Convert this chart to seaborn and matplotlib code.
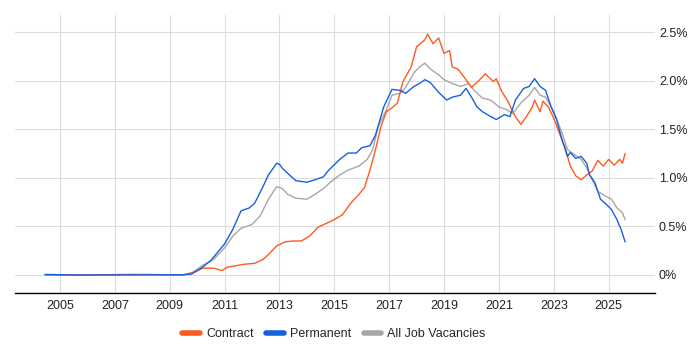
import numpy as np
import pandas as pd
import matplotlib
matplotlib.use("Agg")
import matplotlib.pyplot as plt
import seaborn as sns

# ---- data ----
perm_x = [2004.45, 2005.5, 2007.0, 2008.5, 2009.5, 2009.8, 2010.2, 2010.5, 2011.0, 2011.3, 2011.6, 2011.9,
          2012.1, 2012.4, 2012.6, 2012.9, 2013.0, 2013.1, 2013.4, 2013.6, 2014.0, 2014.3, 2014.6,
          2014.8, 2015.2, 2015.5, 2015.8, 2016.0, 2016.3, 2016.5, 2016.8, 2017.0, 2017.1, 2017.4,
          2017.6, 2017.9, 2018.1, 2018.3, 2018.5, 2018.8, 2019.1, 2019.3, 2019.6, 2019.8, 2020.0,
          2020.2, 2020.4, 2020.7, 2020.9, 2021.2, 2021.4, 2021.6, 2021.9, 2022.1, 2022.3, 2022.5,
          2022.7, 2022.9, 2023.1, 2023.3, 2023.5, 2023.6, 2023.8, 2024.0, 2024.2, 2024.3, 2024.5,
          2024.7, 2024.9, 2025.1, 2025.3, 2025.45, 2025.6]
perm_y = [0.005, 0.0, 0.0, 0.002, 0.002, 0.01, 0.08, 0.15, 0.32, 0.47, 0.66, 0.69,
          0.74, 0.91, 1.03, 1.15, 1.14, 1.10, 1.02, 0.97, 0.955, 0.98, 1.01,
          1.08, 1.19, 1.255, 1.255, 1.31, 1.33, 1.44, 1.73, 1.85, 1.91, 1.90,
          1.87, 1.94, 1.97, 2.01, 1.98, 1.88, 1.80, 1.83, 1.85, 1.92, 1.83,
          1.73, 1.68, 1.63, 1.60, 1.65, 1.63, 1.80, 1.92, 1.94, 2.02, 1.94,
          1.90, 1.73, 1.60, 1.39, 1.22, 1.26, 1.20, 1.22, 1.15, 1.03, 0.95,
          0.78, 0.73, 0.675, 0.57, 0.47, 0.34]

contract_x = [2004.45, 2006.0, 2007.5, 2008.2, 2009.5, 2009.9, 2010.2, 2010.6, 2010.9, 2011.1, 2011.4,
              2011.7, 2012.1, 2012.4, 2012.6, 2012.9, 2013.2, 2013.5, 2013.8, 2014.1, 2014.4,
              2014.7, 2015.0, 2015.3, 2015.6, 2015.9, 2016.1, 2016.3, 2016.5, 2016.7, 2016.9,
              2017.1, 2017.3, 2017.5, 2017.8, 2018.0, 2018.3, 2018.4, 2018.6, 2018.8, 2019.0,
              2019.2, 2019.3, 2019.5, 2019.8, 2020.0, 2020.3, 2020.5, 2020.8, 2020.9, 2021.1,
              2021.3, 2021.6, 2021.8, 2022.0, 2022.2, 2022.3, 2022.5, 2022.6, 2022.8, 2023.0,
              2023.2, 2023.4, 2023.6, 2023.8, 2024.0, 2024.2, 2024.4, 2024.6, 2024.8, 2025.0,
              2025.2, 2025.4, 2025.5, 2025.6]
contract_y = [0.0, 0.0, 0.006, 0.005, 0.0, 0.03, 0.07, 0.07, 0.045, 0.08, 0.095,
              0.11, 0.12, 0.16, 0.21, 0.30, 0.34, 0.35, 0.35, 0.40, 0.49,
              0.53, 0.57, 0.62, 0.74, 0.83, 0.90, 1.08, 1.29, 1.53, 1.68,
              1.72, 1.77, 1.99, 2.14, 2.35, 2.42, 2.48, 2.38, 2.44, 2.28,
              2.31, 2.14, 2.12, 2.01, 1.93, 2.01, 2.07, 1.99, 2.02, 1.89,
              1.80, 1.63, 1.55, 1.63, 1.72, 1.80, 1.68, 1.79, 1.73, 1.61,
              1.46, 1.32, 1.12, 1.02, 0.98, 1.03, 1.07, 1.18, 1.12, 1.19,
              1.13, 1.19, 1.15, 1.25]

all_x = [2004.45, 2006.0, 2008.0, 2009.5, 2009.8, 2010.2, 2010.6, 2011.0, 2011.3, 2011.6, 2012.0,
         2012.3, 2012.6, 2012.9, 2013.1, 2013.3, 2013.6, 2014.0, 2014.3, 2014.6, 2014.9,
         2015.2, 2015.5, 2015.9, 2016.2, 2016.4, 2016.6, 2016.9, 2017.1, 2017.4, 2017.6,
         2017.9, 2018.1, 2018.3, 2018.5, 2018.8, 2019.0, 2019.3, 2019.6, 2019.9, 2020.1,
         2020.4, 2020.7, 2021.0, 2021.3, 2021.5, 2021.8, 2022.1, 2022.3, 2022.5, 2022.7,
         2023.0, 2023.3, 2023.5, 2023.8, 2024.0, 2024.2, 2024.4, 2024.6, 2024.9, 2025.1,
         2025.3, 2025.5, 2025.6]
all_y = [0.004, 0.002, 0.002, 0.003, 0.02, 0.10, 0.16, 0.28, 0.40, 0.48, 0.52,
         0.61, 0.78, 0.91, 0.89, 0.83, 0.79, 0.78, 0.83, 0.89, 0.965,
         1.03, 1.08, 1.12, 1.19, 1.29, 1.53, 1.70, 1.85, 1.87, 1.93,
         2.08, 2.14, 2.18, 2.12, 2.06, 2.01, 1.97, 1.94, 1.97, 1.90,
         1.82, 1.80, 1.73, 1.70, 1.66, 1.77, 1.85, 1.93, 1.85, 1.83,
         1.68, 1.46, 1.29, 1.23, 1.19, 1.10, 0.98, 0.86, 0.81, 0.78,
         0.69, 0.64, 0.57]

series_names = ["Contract", "Permanent", "All Job Vacancies"]
colors = ["#ff5a1f", "#1660e0", "#a6a6a6"]
x_ticks = list(range(2005, 2027, 2))
y_ticks = [0, 0.5, 1.0, 1.5, 2.0, 2.5]
y_tick_labels = ["0%", "0.5%", "1.0%", "1.5%", "2.0%", "2.5%"]

frames = []
for name, xs, ys in [("Contract", contract_x, contract_y),
                     ("Permanent", perm_x, perm_y),
                     ("All Job Vacancies", all_x, all_y)]:
    frames.append(pd.DataFrame({"year": xs, "pct": ys, "series": name}))
df = pd.concat(frames, ignore_index=True)

sns.set_theme(style="white")
plt.rcParams["font.family"] = ["Liberation Sans", "DejaVu Sans"]

fig = plt.figure(figsize=(7, 3.5), dpi=100)
ax = fig.add_axes([0.0214, 0.163, 0.914, 0.794])

order = ["All Job Vacancies", "Contract", "Permanent"]
pal = dict(zip(series_names, colors))
for name in order:
    sns.lineplot(data=df[df.series == name], x="year", y="pct", color=pal[name],
                 linewidth=1.0, ax=ax, legend=False, estimator=None, sort=True)

ax.set_xlim(2003.36, 2026.68)
ax.set_ylim(-0.185, 2.675)
ax.set_xticks(x_ticks)
ax.set_xticklabels([str(t) for t in x_ticks])
ax.yaxis.tick_right()
ax.set_yticks(y_ticks)
ax.set_yticklabels(y_tick_labels)
ax.tick_params(axis="both", length=0, labelsize=9, colors="#222222")
ax.tick_params(axis="y", pad=3)
ax.tick_params(axis="x", pad=5)
ax.set_xlabel("")
ax.set_ylabel("")
ax.grid(True, color="#dddddd", linewidth=0.8)
ax.set_axisbelow(True)
for s in ["top", "left", "right"]:
    ax.spines[s].set_visible(False)
ax.spines["bottom"].set_color("#000000")
ax.spines["bottom"].set_linewidth(1.0)

from matplotlib.lines import Line2D
handles = [Line2D([], [], color=c, linewidth=4) for c in colors]
fig.legend(handles, series_names, loc="center", bbox_to_anchor=(0.477, 0.045), ncol=3,
           frameon=False, fontsize=9, handlelength=1.4, handletextpad=0.5, columnspacing=1.0)

fig.savefig("out.png", dpi=100)
